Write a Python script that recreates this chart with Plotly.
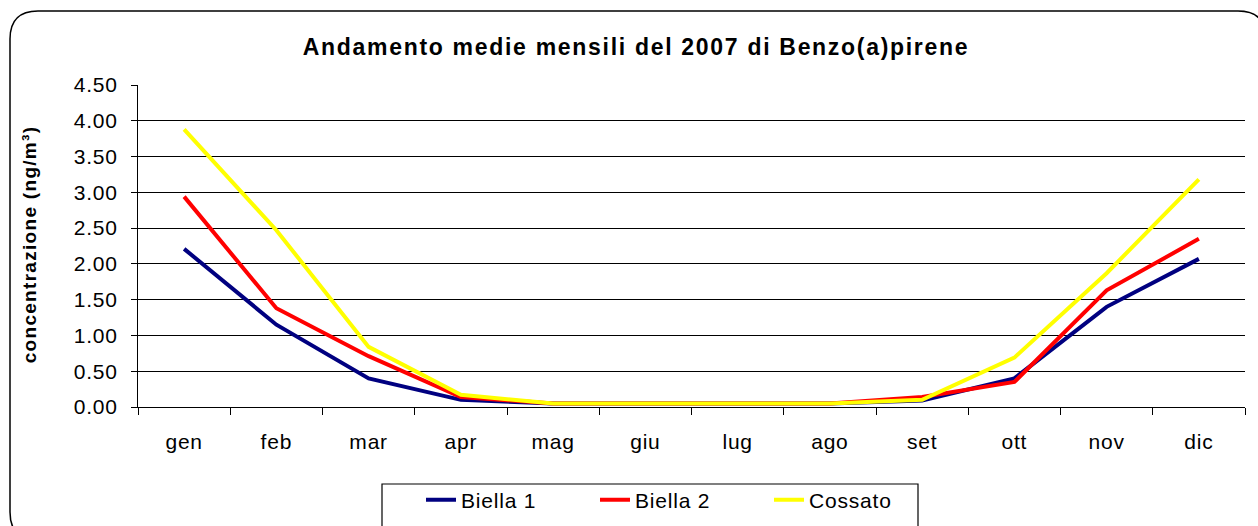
import plotly.graph_objects as go

months = ["gen", "feb", "mar", "apr", "mag", "giu", "lug", "ago", "set", "ott", "nov", "dic"]
biella1 = [2.21, 1.15, 0.40, 0.10, 0.05, 0.05, 0.05, 0.05, 0.09, 0.40, 1.40, 2.07]
biella2 = [2.94, 1.38, 0.71, 0.14, 0.05, 0.05, 0.05, 0.05, 0.14, 0.35, 1.63, 2.35]
cossato = [3.88, 2.47, 0.84, 0.17, 0.05, 0.05, 0.05, 0.05, 0.10, 0.69, 1.87, 3.18]
y_ticks = [0, 0.5, 1.0, 1.5, 2.0, 2.5, 3.0, 3.5, 4.0, 4.5]

W, H = 1258, 526
L, R, T, B = 138, 1245, 85, 407
PW, PH = R - L, B - T

def px(x):
    return (x - L) / PW

def py(y):
    return (B - y) / PH

FONT = "Liberation Sans, Arial, sans-serif"

fig = go.Figure()
for name, vals, col in [("Biella 1", biella1, "#000080"),
                        ("Biella 2", biella2, "#FF0000"),
                        ("Cossato", cossato, "#FFFF00")]:
    fig.add_trace(go.Scatter(x=months, y=vals, name=name, mode="lines",
                             line=dict(color=col, width=4)))

# outer rounded border
x0, y0, x1, y1, r = 10, 11, 1266, 540, 28
path = (f"M {px(x0+r)},{py(y0)} L {px(x1-r)},{py(y0)} Q {px(x1)},{py(y0)} {px(x1)},{py(y0+r)} "
        f"L {px(x1)},{py(y1-r)} Q {px(x1)},{py(y1)} {px(x1-r)},{py(y1)} "
        f"L {px(x0+r)},{py(y1)} Q {px(x0)},{py(y1)} {px(x0)},{py(y1-r)} "
        f"L {px(x0)},{py(y0+r)} Q {px(x0)},{py(y0)} {px(x0+r)},{py(y0)} Z")
shapes = [
    dict(type="path", xref="paper", yref="paper", path=path,
         line=dict(color="#000000", width=1.5), layer="below"),
    dict(type="rect", xref="paper", yref="paper",
         x0=px(382), x1=px(918), y0=py(484), y1=py(545),
         line=dict(color="#000000", width=1.2), fillcolor="rgba(0,0,0,0)"),
]

fig.update_layout(
    width=W, height=H,
    margin=dict(l=L, r=W - R, t=T, b=H - B, autoexpand=False),
    paper_bgcolor="white", plot_bgcolor="white",
    font=dict(family=FONT, color="#000000", size=21),
    title=dict(text="<b>Andamento medie mensili del 2007 di Benzo(a)pirene</b>",
               x=636 / W, xanchor="center", y=1 - 47 / H, yanchor="middle",
               font=dict(family=FONT, size=23, color="#000000")),
    showlegend=True,
    legend=dict(orientation="h", x=px(421), xanchor="left",
                y=py(500), yanchor="middle",
                font=dict(family=FONT, size=21, color="#000000"),
                bgcolor="rgba(0,0,0,0)", borderwidth=0,
                entrywidth=129, entrywidthmode="pixels", traceorder="normal"),
    shapes=shapes,
    annotations=[dict(text="<b>concentrazione (ng/m³)</b>", textangle=-90,
                      xref="paper", yref="paper", x=px(29), y=py(245),
                      xanchor="center", yanchor="middle", showarrow=False,
                      font=dict(family=FONT, size=19, color="#000000"))],
)

fig.update_xaxes(type="category", range=[-0.5, 11.5], showline=True,
                 linecolor="#000000", linewidth=1, ticks="outside",
                 tickson="boundaries", ticklen=7, tickcolor="#000000",
                 showgrid=False, zeroline=False, ticklabelstandoff=16,
                 automargin=False,
                 tickfont=dict(family=FONT, size=21, color="#000000"))
fig.update_yaxes(range=[0, 4.5], tickvals=y_ticks,
                 ticktext=[f"{v:.2f}" for v in y_ticks],
                 showline=True, linecolor="#000000", linewidth=1,
                 ticks="outside", ticklen=6, tickcolor="#000000",
                 showgrid=True, gridcolor="#000000", gridwidth=1,
                 zeroline=False, ticklabelstandoff=9, automargin=False,
                 tickfont=dict(family=FONT, size=21, color="#000000"))

post = """
document.documentElement.style.margin = '0';
document.body.style.margin = '0';
document.body.style.overflow = 'hidden';
document.querySelectorAll('.gtitle').forEach(function(e){ e.style.letterSpacing = '1.7px'; });
document.querySelectorAll('.annotation-text').forEach(function(e){ e.style.letterSpacing = '1.3px'; });
document.querySelectorAll('.xtick text, .ytick text, .legendtext').forEach(function(e){ e.style.letterSpacing = '0.8px'; });
"""

fig.write_html("out.html", post_script=post, config={"displayModeBar": False})
